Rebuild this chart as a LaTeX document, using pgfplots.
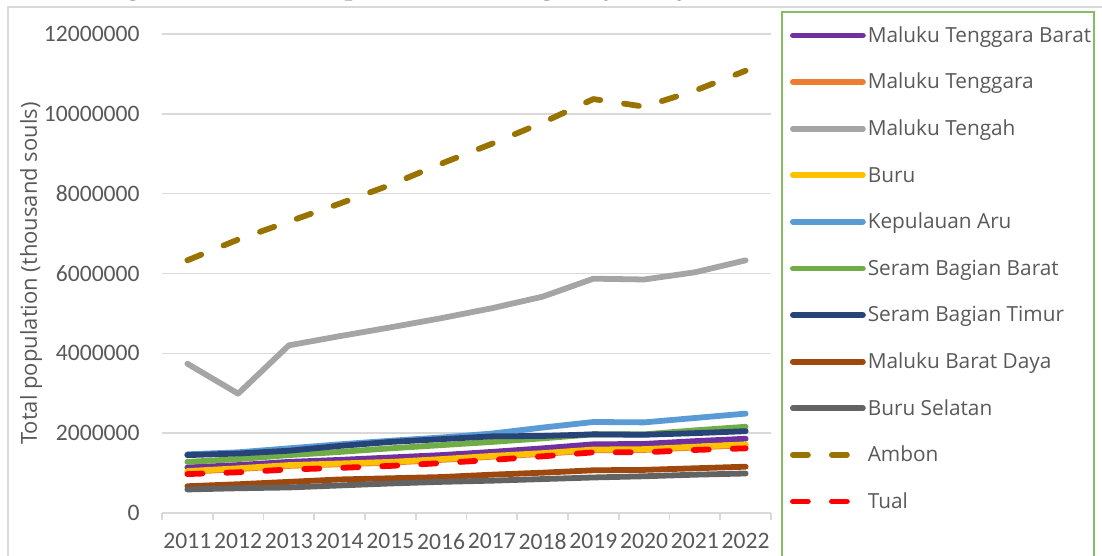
\documentclass[border=0pt]{standalone}
\usepackage{pgfplots}
\usepackage{pgfplotstable}
\pgfplotsset{compat=1.18}
\usepackage{fontspec}
\setmainfont{Open Sans}
\newfontfamily\tickfont{Carlito}
\newfontfamily\titlefont{Liberation Serif}
\definecolor{cMTB}{HTML}{7030A0}
\definecolor{cMT}{HTML}{ED7D31}
\definecolor{cTeng}{HTML}{A5A5A5}
\definecolor{cBuru}{HTML}{FFC000}
\definecolor{cAru}{HTML}{5B9BD5}
\definecolor{cSBB}{HTML}{70AD47}
\definecolor{cSBT}{HTML}{264478}
\definecolor{cMBD}{HTML}{9E480E}
\definecolor{cBS}{HTML}{636363}
\definecolor{cAmb}{HTML}{997300}
\definecolor{cTual}{HTML}{FF0000}
\definecolor{gridgray}{HTML}{D9D9D9}
\definecolor{labelgray}{HTML}{595959}
\definecolor{legendgreen}{HTML}{86BC62}
\pgfplotstableread{
x MTB MT Teng Buru Aru SBB SBT MBD BS Amb Tual
1 1140000 1030000 3740000 1050000 1470000 1280000 1450000 670000 590000 6330000 975000
2 1200000 1100000 2990000 1120000 1520000 1350000 1490000 720000 620000 6850000 1020000
3 1280000 1180000 4200000 1200000 1620000 1450000 1560000 780000 640000 7300000 1090000
4 1330000 1220000 4430000 1240000 1720000 1530000 1680000 840000 690000 7750000 1130000
5 1390000 1260000 4650000 1280000 1810000 1620000 1780000 870000 740000 8220000 1180000
6 1450000 1330000 4880000 1350000 1890000 1700000 1850000 900000 780000 8750000 1250000
7 1530000 1410000 5130000 1430000 1990000 1780000 1920000 960000 810000 9250000 1330000
8 1620000 1480000 5420000 1500000 2140000 1870000 1930000 1010000 850000 9780000 1420000
9 1720000 1570000 5870000 1590000 2280000 1970000 1970000 1070000 890000 10370000 1520000
10 1730000 1580000 5850000 1600000 2270000 1970000 1960000 1080000 920000 10180000 1520000
11 1800000 1640000 6030000 1660000 2380000 2070000 2000000 1120000 960000 10580000 1580000
12 1860000 1700000 6330000 1720000 2490000 2160000 2050000 1160000 990000 11080000 1620000
}\datatable
\begin{document}
\begin{tikzpicture}
\draw[gridgray, line width=0.8pt] (-77pt,-40pt) rectangle (480pt,253pt);
\begin{axis}[
  at={(0pt,0pt)}, anchor=south west,
  width=304.5pt, height=239.5pt, scale only axis,
  xmin=0.5, xmax=12.5, ymin=0, ymax=12000000,
  xtick={1,2,3,4,5,6,7,8,9,10,11,12},
  xticklabels={2011,2012,2013,2014,2015,2016,2017,2018,2019,2020,2021,2022},
  minor xtick={0.5,1.5,2.5,3.5,4.5,5.5,6.5,7.5,8.5,9.5,10.5,11.5,12.5},
  ytick={0,2000000,4000000,6000000,8000000,10000000,12000000},
  scaled y ticks=false,
  /pgf/number format/assume math mode=true,
  yticklabel style={/pgf/number format/fixed, /pgf/number format/1000 sep={}, anchor=east, inner sep=0pt, xshift=-11pt},
  xticklabel style={anchor=north, inner sep=0pt, yshift=-10pt},
  tick label style={font=\tickfont\fontsize{11.8}{14}\selectfont, text=labelgray},
  major tick length=0pt, minor tick length=3.5pt, tick align=outside,
  minor tick style={gridgray, line width=0.8pt},
  axis x line*=bottom, axis y line*=left,
  x axis line style={gridgray, line width=0.8pt, -},
  y axis line style={draw=none},
  ymajorgrids, grid style={gridgray, line width=0.8pt},
  ylabel={Total population (thousand souls)},
  ylabel style={at={(axis description cs:-0.2053,0.5)}, anchor=base, font=\fontsize{11}{13}\selectfont, text=labelgray},
  clip=false,
  legend style={at={(axis description cs:1.0312,1.0177)}, anchor=north west, draw=none, fill=none,
    inner sep=0pt, outer sep=0pt, row sep=13.4pt, column sep=1pt,
    font=\fontsize{10.4}{12}\selectfont, text=labelgray, nodes={inner sep=0pt}},
  legend cell align=left,
  legend image code/.code={\draw[#1] (0pt,0pt) -- (35pt,0pt);},
  every axis plot/.append style={line width=2.9pt, line join=round, line cap=round},
]
\addplot[cMTB] table[x=x,y=MTB]{\datatable}; \addlegendentry{\strut Maluku Tenggara Barat}
\addplot[cMT] table[x=x,y=MT]{\datatable}; \addlegendentry{\strut Maluku Tenggara}
\addplot[cTeng] table[x=x,y=Teng]{\datatable}; \addlegendentry{\strut Maluku Tengah}
\addplot[cBuru] table[x=x,y=Buru]{\datatable}; \addlegendentry{\strut Buru}
\addplot[cAru] table[x=x,y=Aru]{\datatable}; \addlegendentry{\strut Kepulauan Aru}
\addplot[cSBB] table[x=x,y=SBB]{\datatable}; \addlegendentry{\strut Seram Bagian Barat}
\addplot[cSBT] table[x=x,y=SBT]{\datatable}; \addlegendentry{\strut Seram Bagian Timur}
\addplot[cMBD] table[x=x,y=MBD]{\datatable}; \addlegendentry{\strut Maluku Barat Daya}
\addplot[cBS] table[x=x,y=BS]{\datatable}; \addlegendentry{\strut Buru Selatan}
\addplot[cAmb, dash pattern=on 7.5pt off 12pt] table[x=x,y=Amb]{\datatable}; \addlegendentry{\strut Ambon}
\addplot[cTual, dash pattern=on 7.5pt off 12pt] table[x=x,y=Tual]{\datatable}; \addlegendentry{\strut Tual}
\end{axis}
\draw[legendgreen, line width=1pt] (310pt,250.5pt) rectangle (466pt,-40pt);
\node[anchor=base west, font=\titlefont\fontsize{17}{20}\selectfont, inner sep=0pt] at (-33pt,259.6pt) {Figure 2. Total Population of Regency, City in Maluku (2011-2022)};
\pgfresetboundingbox
\useasboundingbox (-81pt,-21.5pt) rectangle (470pt,256.5pt);
\end{tikzpicture}
\end{document}
